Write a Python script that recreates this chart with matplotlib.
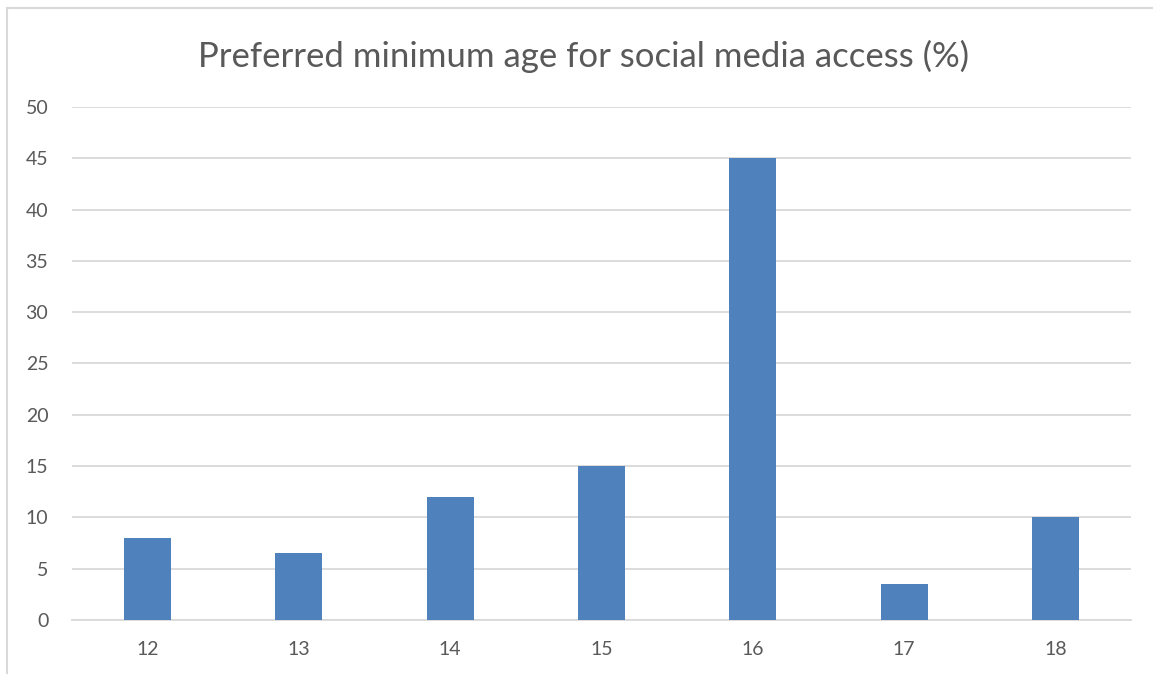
import matplotlib

matplotlib.use("Agg")

import matplotlib.pyplot as plt
from matplotlib.lines import Line2D

ages = ["12", "13", "14", "15", "16", "17", "18"]
percent = [8, 6.5, 12, 15, 45, 3.5, 10]
y_ticks = [0, 5, 10, 15, 20, 25, 30, 35, 40, 45, 50]

TEXT = "#595959"
GRID = "#d9d9d9"
BAR = "#4f81bd"

plt.rcParams["font.family"] = ["Lato", "DejaVu Sans"]

fig = plt.figure(figsize=(11.53, 6.75), dpi=100, facecolor="white")
ax = fig.add_axes([0.0624, 0.0815, 0.9186, 0.76])

x = list(range(len(ages)))
ax.bar(x, percent, width=0.31, color=BAR, zorder=3)

ax.set_xlim(-0.5, len(ages) - 0.5)
ax.set_ylim(0, 50)
ax.set_yticks(y_ticks)
ax.set_xticks(x)
ax.set_xticklabels(ages)
ax.grid(axis="y", color=GRID, linewidth=1.3, zorder=0)

for side in ["top", "right", "left"]:
    ax.spines[side].set_visible(False)
ax.spines["bottom"].set_color(GRID)
ax.spines["bottom"].set_linewidth(1.3)
ax.tick_params(axis="both", length=0, labelsize=14, colors=TEXT)
ax.tick_params(axis="y", pad=17)
ax.tick_params(axis="x", pad=15)

fig.text(0.506, 0.917, "Preferred minimum age for social media access (%)",
         ha="center", va="center", fontsize=25, color=TEXT)

# chart frame (left and top edges only visible)
fig.add_artist(Line2D([0.0061, 0.0061], [0.003, 0.988], color=GRID, linewidth=1.5))
fig.add_artist(Line2D([0.0061, 1.0], [0.988, 0.988], color=GRID, linewidth=1.5))

fig.savefig("out.png", dpi=100, facecolor="white")
